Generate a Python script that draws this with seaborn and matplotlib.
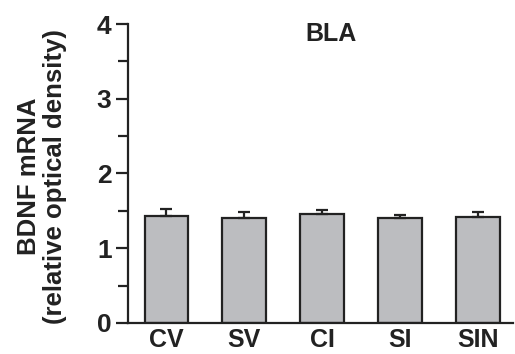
import pandas as pd
import matplotlib
matplotlib.use("Agg")
import matplotlib.pyplot as plt
import seaborn as sns
from matplotlib.ticker import MultipleLocator

#chart data
groups = ["CV", "SV", "CI", "SI", "SIN"]
means = [1.43, 1.40, 1.46, 1.40, 1.42]
sems = [0.09, 0.08, 0.05, 0.05, 0.06]

df = pd.DataFrame({"group": groups, "mean": means})

sns.set_style("ticks")
plt.rcParams["font.family"] = ["Liberation Sans", "DejaVu Sans"]
plt.rcParams["font.weight"] = "bold"

fig = plt.figure(figsize=(5.15, 3.54), dpi=100)
ax = fig.add_axes([0.249, 0.088, 0.747, 0.844])

sns.barplot(data=df, x="group", y="mean", color="#bcbdc0", edgecolor="#222222",
            linewidth=1.6, width=0.56, errorbar=None, saturation=1, ax=ax)

#upward error bars only
ax.errorbar(x=range(len(groups)), y=means, yerr=[[0] * len(sems), sems],
            fmt="none", ecolor="#222222", elinewidth=1.6, capsize=4, capthick=1.6, zorder=1)

ax.set_ylim(0, 4)
ax.set_xlim(-0.49, 4.45)
ax.yaxis.set_major_locator(MultipleLocator(1))
ax.yaxis.set_minor_locator(MultipleLocator(0.5))

for s in ["top", "right"]:
    ax.spines[s].set_visible(False)
for s in ["left", "bottom"]:
    ax.spines[s].set_linewidth(1.6)
    ax.spines[s].set_color("#222222")

ax.tick_params(axis="y", which="major", length=9, width=1.6, pad=3, labelsize=19, colors="#222222")
ax.tick_params(axis="y", which="minor", length=7, width=1.6, colors="#222222")
ax.tick_params(axis="x", length=0, pad=4, labelsize=18, colors="#222222")
for lab in ax.get_xticklabels() + ax.get_yticklabels():
    lab.set_fontweight("bold")

ax.set_xlabel("")
ax.set_ylabel("BDNF mRNA\n(relative optical density)", fontsize=18.5, fontweight="bold",
              color="#222222", linespacing=1.1)
ax.yaxis.set_label_coords(-0.16, 0.49)

ax.text(2.12, 3.87, "BLA", ha="center", va="center", fontsize=18, fontweight="bold", color="#222222")

plt.savefig("out.png")
plt.close()
